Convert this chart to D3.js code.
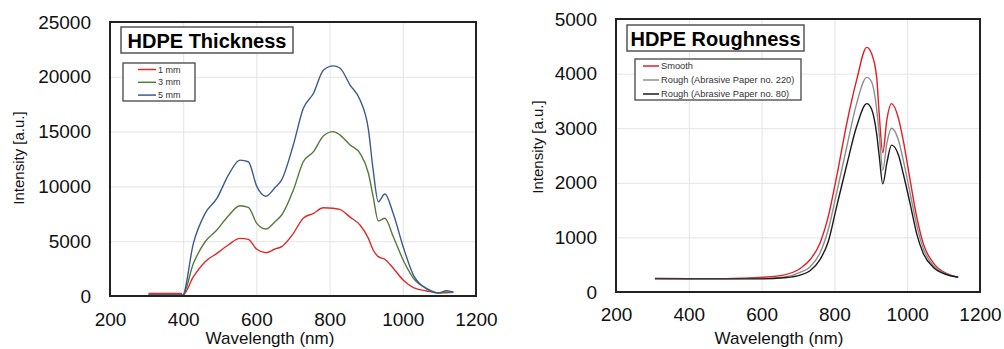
<!DOCTYPE html>
<html>
<head>
<meta charset="utf-8">
<script src="https://cdn.jsdelivr.net/npm/d3@7"></script>
<style>
  body { margin: 0; background: #fff; }
  svg { display: block; font-family: "Liberation Sans", Arial, sans-serif; }
  .tick text { fill: #111; }
  .grid line { stroke: #e4e4e4; }
</style>
</head>
<body>
<svg width="1004" height="349"></svg>
<script>
// ---- left chart data (HDPE Thickness) ----
const thickWave = [305, 395, 398, 428, 460, 492, 523, 555, 578, 601, 626, 651, 669, 701, 728, 756,
  783, 810, 828, 856, 883, 906, 919, 933, 951, 974, 1001, 1029, 1065, 1097, 1120, 1138];
const thick1mm = [240, 240, 50, 1760, 3130, 3890, 4650, 5260, 5170, 4260, 3950, 4290, 4500, 5720, 7100, 7540,
  8050, 8000, 7900, 7200, 6480, 5260, 4200, 3590, 3350, 2530, 1460, 760, 460, 300, 300, 340];
const thick3mm = [100, 100, 30, 2980, 4950, 6020, 7300, 8240, 8090, 6630, 6110, 6780, 7390, 9670, 12250, 13170,
  14600, 15000, 14700, 13780, 13020, 11200, 9060, 6840, 7090, 5410, 3280, 1610, 700, 300, 350, 340];
const thick5mm = [100, 100, 30, 4830, 7540, 8900, 11000, 12400, 12250, 10000, 9100, 9900, 10600, 13800, 17100, 18500,
  20600, 21000, 20800, 19250, 17900, 15200, 11500, 8600, 9300, 7500, 4500, 1900, 650, 280, 480, 340];
const thickNames = ['1 mm', '3 mm', '5 mm'];

// ---- right chart data (HDPE Roughness) ----
const roughWave = [307, 400, 500, 605, 660, 706, 733, 760, 783, 806, 834, 861, 889, 902, 916, 923,
  933, 944, 957, 976, 989, 1008, 1026, 1044, 1072, 1108, 1140];
const roughSmooth = [250, 245, 245, 270, 310, 430, 590, 890, 1380, 2110, 3090, 3880, 4480, 4370, 3940, 3270,
  2550, 3150, 3450, 3180, 2780, 2050, 1380, 890, 530, 340, 270];
const rough220 = [250, 245, 245, 250, 270, 360, 460, 710, 1140, 1810, 2660, 3450, 3930, 3850, 3350, 2900,
  2230, 2720, 3000, 2780, 2420, 1810, 1230, 800, 480, 330, 270];
const rough80 = [240, 240, 240, 240, 260, 310, 390, 590, 920, 1560, 2330, 3030, 3450, 3350, 2900, 2500,
  1980, 2360, 2690, 2510, 2170, 1620, 1070, 710, 450, 320, 270];
const roughNames = ['Smooth', 'Rough (Abrasive Paper no. 220)', 'Rough (Abrasive Paper no. 80)'];

const xTicks = [200, 400, 600, 800, 1000, 1200];

const svg = d3.select('svg');

const drawChart = cfg => {
  const xScale = d3.scaleLinear().domain([200, 1200]).range(cfg.xRange);
  const yScale = d3.scaleLinear().domain(cfg.yDomain).range(cfg.yRange);
  const innerWidth = cfg.xRange[1] - cfg.xRange[0];
  const innerHeight = cfg.yRange[0] - cfg.yRange[1];

  const g = svg.append('g');

  const yAxisG = g.append('g')
    .attr('class', 'grid')
    .attr('transform', `translate(${cfg.xRange[0]},0)`)
    .call(d3.axisLeft(yScale).tickValues(cfg.yTicks).tickFormat(d3.format('d'))
      .tickSize(-innerWidth).tickPadding(19));
  yAxisG.select('.domain').remove();
  yAxisG.selectAll('text').attr('font-size', 19);

  const xAxisG = g.append('g')
    .attr('class', 'grid')
    .attr('transform', `translate(0,${cfg.yRange[0]})`)
    .call(d3.axisBottom(xScale).tickValues(xTicks).tickFormat(d3.format('d'))
      .tickSize(-innerHeight).tickPadding(cfg.xPad));
  xAxisG.select('.domain').remove();
  xAxisG.selectAll('text').attr('font-size', 19);

  // axis labels
  g.append('text')
    .attr('transform', `translate(${cfg.yLabelX},${cfg.yLabelY}) rotate(-90)`)
    .attr('text-anchor', 'middle')
    .attr('font-size', 15)
    .attr('fill', '#111')
    .text('Intensity [a.u.]');

  g.append('text')
    .attr('x', cfg.xLabelX)
    .attr('y', cfg.xLabelY)
    .attr('text-anchor', 'middle')
    .attr('font-size', 17)
    .attr('fill', '#111')
    .text('Wavelength (nm)');

  // lines
  const lineGenerator = d3.line()
    .x((d, i) => xScale(cfg.wave[i]))
    .y(d => yScale(d))
    .curve(d3.curveMonotoneX);

  cfg.series.forEach((s, i) => {
    g.append('path')
      .attr('d', lineGenerator(s))
      .attr('fill', 'none')
      .attr('stroke', cfg.colors[i])
      .attr('stroke-width', 1.4);
  });

  // frame
  g.append('rect')
    .attr('x', cfg.xRange[0])
    .attr('y', cfg.yRange[1])
    .attr('width', innerWidth)
    .attr('height', innerHeight)
    .attr('fill', 'none')
    .attr('stroke', '#222')
    .attr('stroke-width', 2);

  // title box
  const t = cfg.title;
  g.append('rect')
    .attr('x', t.x).attr('y', t.y).attr('width', t.w).attr('height', t.h)
    .attr('fill', '#fff').attr('stroke', '#555').attr('stroke-width', 1.5);
  g.append('text')
    .attr('x', t.x + t.w / 2)
    .attr('y', t.baseline)
    .attr('text-anchor', 'middle')
    .attr('font-size', 20)
    .attr('font-weight', 'bold')
    .attr('fill', '#000')
    .text(t.text);

  // legend
  const L = cfg.legend;
  g.append('rect')
    .attr('x', L.x).attr('y', L.y).attr('width', L.w).attr('height', L.h)
    .attr('fill', '#fff').attr('stroke', '#444').attr('stroke-width', 1.3);
  cfg.names.forEach((name, i) => {
    const yy = L.firstY + i * L.step;
    g.append('line')
      .attr('x1', L.lineX1).attr('x2', L.lineX2)
      .attr('y1', yy).attr('y2', yy)
      .attr('stroke', cfg.colors[i]).attr('stroke-width', 1.5);
    g.append('text')
      .attr('x', L.lineX2 + 2)
      .attr('y', yy)
      .attr('dy', '0.35em')
      .attr('font-size', L.fontSize)
      .attr('fill', '#333')
      .text(name);
  });
};

drawChart({
  xRange: [110, 476],
  yRange: [296, 22],
  yDomain: [0, 25000],
  yTicks: [0, 5000, 10000, 15000, 20000, 25000],
  xPad: 17,
  yLabelX: 24, yLabelY: 158,
  xLabelX: 270, xLabelY: 344,
  wave: thickWave,
  series: [thick1mm, thick3mm, thick5mm],
  colors: ['#e02a2a', '#557a3a', '#3d5a8e'],
  names: thickNames,
  title: { x: 121, y: 27, w: 172, h: 26, baseline: 48, text: 'HDPE Thickness' },
  legend: { x: 123, y: 63, w: 72, h: 38, firstY: 69.5, step: 12.8, lineX1: 138, lineX2: 156, fontSize: 9 }
});

drawChart({
  xRange: [616, 980],
  yRange: [292, 19],
  yDomain: [0, 5000],
  yTicks: [0, 1000, 2000, 3000, 4000, 5000],
  xPad: 16,
  yLabelX: 543, yLabelY: 147,
  xLabelX: 779, xLabelY: 344,
  wave: roughWave,
  series: [roughSmooth, rough220, rough80],
  colors: ['#e01e24', '#8e8e8e', '#1a1a1a'],
  names: roughNames,
  title: { x: 627, y: 25, w: 177, h: 26, baseline: 46, text: 'HDPE Roughness' },
  legend: { x: 635, y: 59, w: 166, h: 41, firstY: 66, step: 14, lineX1: 643, lineX2: 659, fontSize: 9.3 }
});
</script>
</body>
</html>
